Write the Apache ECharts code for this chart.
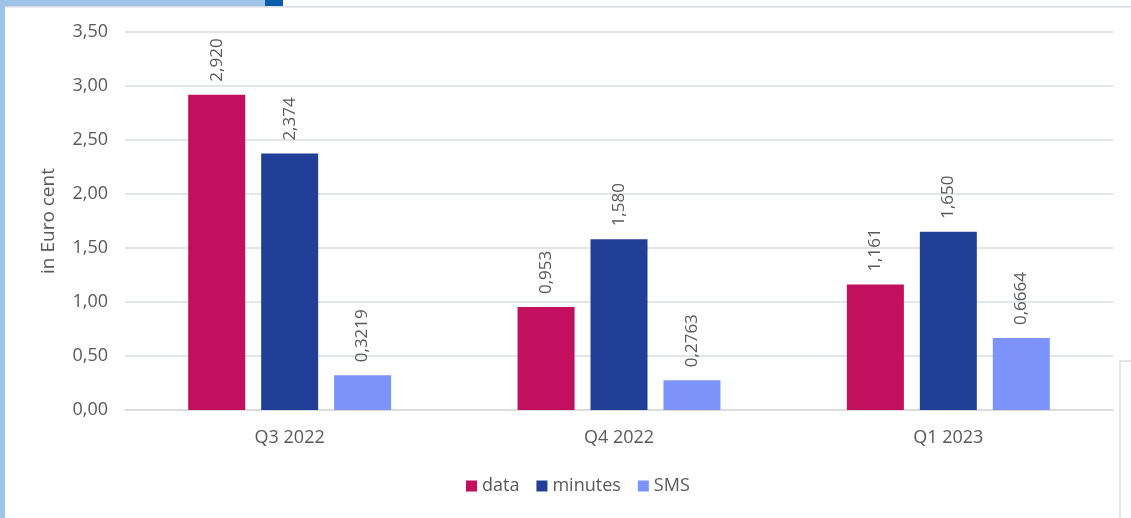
<!DOCTYPE html>
<html>
<head>
<meta charset="utf-8">
<script src="https://cdn.jsdelivr.net/npm/echarts@6/dist/echarts.min.js"></script>
<style>html,body{margin:0;padding:0;background:#fff}#c{width:1131px;height:518px}</style>
</head>
<body>
<div id="c"></div>
<script>
const categories = ['Q3 2022', 'Q4 2022', 'Q1 2023'];
const dataValues = [2.920, 0.953, 1.161];
const minutesValues = [2.374, 1.580, 1.650];
const smsValues = [0.3219, 0.2763, 0.6664];
const yTicks = [0, 0.5, 1, 1.5, 2, 2.5, 3, 3.5];

const font = 'Open Sans, Noto Sans, sans-serif';
const txt = '#595959';
function fmt(dec) {
  return p => p.value.toFixed(dec).replace('.', ',');
}
function mk(name, vals, color, dec) {
  return {
    name, type: 'bar', data: vals, barWidth: 57, barGap: '28%',
    itemStyle: { color },
    label: { show: true, position: 'top', rotate: 90, distance: 13, align: 'left', verticalAlign: 'middle',
      formatter: fmt(dec), color: txt, fontSize: 17, fontFamily: font }
  };
}
const chart = echarts.init(document.getElementById('c'));
chart.setOption({
  animation: false,
  grid: { left: 125, right: 18, top: 32, bottom: 108 },
  legend: { bottom: 18, left: 461, itemWidth: 11, itemHeight: 11, itemGap: 17, icon: 'rect',
    textStyle: { color: txt, fontSize: 18, fontFamily: font } },
  xAxis: { type: 'category', data: categories,
    axisLine: { lineStyle: { color: '#D9D9D9', width: 1.5 } }, axisTick: { show: false },
    axisLabel: { color: txt, fontSize: 18, fontFamily: font, margin: 19 } },
  yAxis: { type: 'value', min: 0, max: 3.5, interval: 0.5,
    name: 'in Euro cent', nameLocation: 'middle', nameGap: 67, nameRotate: 90,
    nameTextStyle: { color: txt, fontSize: 19, fontFamily: font },
    axisLabel: { color: txt, fontSize: 18, fontFamily: font, margin: 17,
      formatter: v => yTicks.includes(v) ? v.toFixed(2).replace('.', ',') : '' },
    splitLine: { lineStyle: { color: '#D9DCE3', width: 1.5 } } },
  series: [
    mk('data', dataValues, '#C20F5E', 3),
    mk('minutes', minutesValues, '#223F98', 3),
    mk('SMS', smsValues, '#7B93FB', 4)
  ],
  graphic: [
    { type: 'rect', shape: { x: 0, y: 0, width: 265, height: 6 }, style: { fill: '#9DC3E6' } },
    { type: 'rect', shape: { x: 265, y: 0, width: 18, height: 6 }, style: { fill: '#0B5CAD' } },
    { type: 'rect', shape: { x: 0, y: 6, width: 1131, height: 1.5 }, style: { fill: '#D6D9E0' } },
    { type: 'rect', shape: { x: 0, y: 6, width: 5, height: 512 }, style: { fill: '#9DC3E6' } },
    { type: 'polyline', shape: { points: [[1120, 518], [1120, 361], [1131, 361]] }, style: { stroke: '#DCDCDC', lineWidth: 1.5, fill: null } }
  ]
});
</script>
</body>
</html>
